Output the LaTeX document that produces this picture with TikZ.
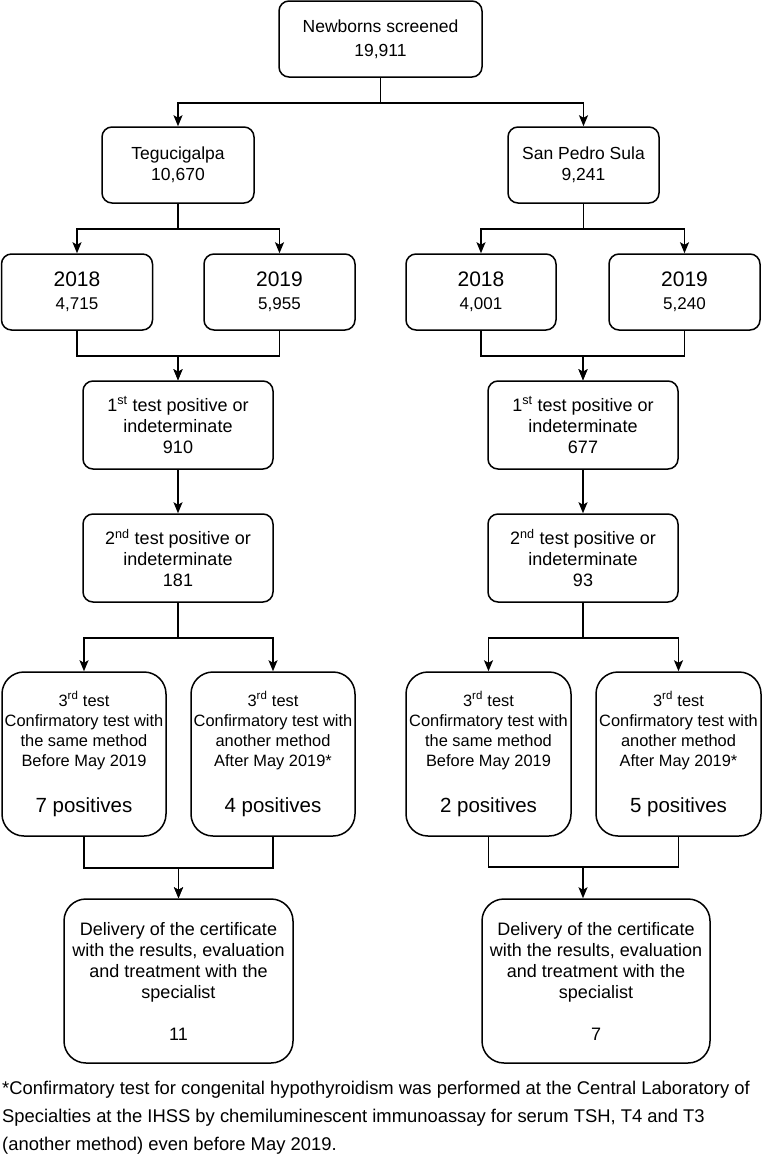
\documentclass[tikz,border=0pt]{standalone}
\usepackage{fontspec}
\setmainfont{Liberation Sans}
\usetikzlibrary{arrows.meta, calc}

\begin{document}
\begin{tikzpicture}[x=1pt, y=-1pt,
    box/.style={draw, rounded corners=10pt, line width=1.5pt, align=center, inner sep=0pt, font=\fontsize{17.5}{21}\selectfont},
    yearbox/.style={box, minimum width=151pt, minimum height=76pt, font=\fontsize{17}{23}\selectfont},
    stagebox/.style={box, minimum width=190pt, minimum height=88pt, font=\fontsize{18}{21}\selectfont},
    testbox/.style={box, rounded corners=22pt, minimum width=164pt, minimum height=164pt, font=\fontsize{16.4}{20}\selectfont},
    finalbox/.style={box, rounded corners=22pt, minimum width=229pt, minimum height=164pt, font=\fontsize{18}{21}\selectfont},
    link/.style={line width=1.5pt},
    arr/.style={link, -{Stealth[length=11pt, width=9pt, inset=2.5pt]}}
  ]
  \useasboundingbox (0,0) rectangle (762,1162);

  % Screening total and the two cities
  \node[box, minimum width=203pt, minimum height=76pt, font=\fontsize{17.5}{24}\selectfont] (screened) at (380.5, 39) {Newborns screened\\19,911};
  \node[box, minimum width=152pt, minimum height=76pt] (tegu) at (178, 165) {Tegucigalpa\\10,670};
  \node[box, minimum width=151pt, minimum height=76pt] (sps) at (583.5, 165) {San Pedro Sula\\9,241};

  % Years
  \node[yearbox] (tegu18) at (77, 292) {{\fontsize{21}{21}\selectfont 2018}\\4,715};
  \node[yearbox] (tegu19) at (279.5, 292) {{\fontsize{21}{21}\selectfont 2019}\\5,955};
  \node[yearbox, minimum width=150pt] (sps18) at (481, 292) {{\fontsize{21}{21}\selectfont 2018}\\4,001};
  \node[yearbox] (sps19) at (684.5, 292) {{\fontsize{21}{21}\selectfont 2019}\\5,240};

  % First and second tests
  \node[stagebox] (tegu1) at (178, 425) {1\textsuperscript{st} test positive or\\indeterminate\\910};
  \node[stagebox] (sps1) at (583, 425) {1\textsuperscript{st} test positive or\\indeterminate\\677};
  \node[stagebox] (tegu2) at (178, 558) {2\textsuperscript{nd} test positive or\\indeterminate\\181};
  \node[stagebox] (sps2) at (583, 558) {2\textsuperscript{nd} test positive or\\indeterminate\\93};

  % Third (confirmatory) tests
  \node[testbox] (tegu3a) at (84, 754) {3\textsuperscript{rd} test\\Confirmatory test with\\the same method\\Before May 2019\\[26pt]{\fontsize{20.5}{20}\selectfont 7 positives}};
  \node[testbox] (tegu3b) at (273, 754) {3\textsuperscript{rd} test\\Confirmatory test with\\another method\\After May 2019*\\[26pt]{\fontsize{20.5}{20}\selectfont 4 positives}};
  \node[testbox, minimum width=165pt] (sps3a) at (488.5, 754) {3\textsuperscript{rd} test\\Confirmatory test with\\the same method\\Before May 2019\\[26pt]{\fontsize{20.5}{20}\selectfont 2 positives}};
  \node[testbox, minimum width=165pt] (sps3b) at (678.5, 754) {3\textsuperscript{rd} test\\Confirmatory test with\\another method\\After May 2019*\\[26pt]{\fontsize{20.5}{20}\selectfont 5 positives}};

  % Delivery to the specialist
  \node[finalbox] (teguout) at (178.5, 981) {Delivery of the certificate\\with the results, evaluation\\and treatment with the\\specialist\\[21pt]11};
  \node[finalbox, minimum width=228pt] (spsout) at (596, 981) {Delivery of the certificate\\with the results, evaluation\\and treatment with the\\specialist\\[21pt]7};

  % Footnote
  \node[anchor=north west, align=left, inner sep=0pt, font=\fontsize{18.4}{28}\selectfont] (note) at (2, 1081) {%
    *Confirmatory test for congenital hypothyroidism was performed at the Central Laboratory of\\
    Specialties at the IHSS by chemiluminescent immunoassay for serum TSH, T4 and T3\\
    (another method) even before May 2019.};

  % Connectors
  \draw[arr] (screened.south) -- ++(0,25) -| (tegu.north);
  \draw[arr] (screened.south) -- ++(0,25) -| (sps.north);

  \draw[arr] (tegu.south) -- ++(0,25) -| (tegu18.north);
  \draw[arr] (tegu.south) -- ++(0,25) -| (tegu19.north);
  \draw[arr] (sps.south) -- ++(0,25) -| (sps18.north);
  \draw[arr] (sps.south) -- ++(0,25) -| (sps19.north);

  \draw[arr] (tegu18.south) -- ++(0,25) -| (tegu1.north);
  \draw[arr] (tegu19.south) -- ++(0,25) -| (tegu1.north);
  \draw[arr] (sps18.south) -- ++(0,25) -| (sps1.north);
  \draw[arr] (sps19.south) -- ++(0,25) -| (sps1.north);

  \draw[arr] (tegu1) -- (tegu2);
  \draw[arr] (sps1) -- (sps2);

  \draw[arr] (tegu2.south) -- ++(0,35) -| (tegu3a.north);
  \draw[arr] (tegu2.south) -- ++(0,35) -| (tegu3b.north);
  \draw[arr] (sps2.south) -- ++(0,35) -| (sps3a.north);
  \draw[arr] (sps2.south) -- ++(0,35) -| (sps3b.north);

  \draw[arr] (tegu3a.south) -- ++(0,31) -| (teguout.north);
  \draw[arr] (tegu3b.south) -- ++(0,31) -| (teguout.north);
  \coordinate (spsjoin) at (583, 867);
  \draw[link] (sps3a.south) |- (spsjoin);
  \draw[link] (sps3b.south) |- (spsjoin);
  \draw[arr] (spsjoin) -- (spsjoin |- spsout.north);
\end{tikzpicture}
\end{document}
